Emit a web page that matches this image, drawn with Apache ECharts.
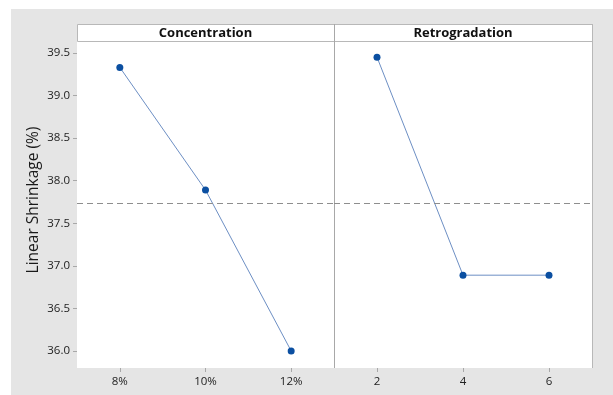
<!DOCTYPE html>
<html>
<head>
<meta charset="utf-8">
<script src="https://cdn.jsdelivr.net/npm/echarts@6/dist/echarts.min.js"></script>
<style>
  html, body { margin: 0; padding: 0; background: #ffffff; }
  #chart { width: 613px; height: 395px; }
</style>
</head>
<body>
<div id="chart"></div>
<script>
// Main effects of each factor on linear shrinkage
const concentrationLevels = ['8%', '10%', '12%'];
const concentrationMeans = [39.33, 37.89, 36.00];
const retrogradationLevels = ['2', '4', '6'];
const retrogradationMeans = [39.45, 36.89, 36.89];
const panelTitles = ['Concentration', 'Retrogradation'];
const yTicks = [36.0, 36.5, 37.0, 37.5, 38.0, 38.5, 39.0, 39.5];

const FONT = '"Open Sans", "DejaVu Sans", sans-serif';
const plot = { left: 77, top: 41, bottom: 368, mid: 334, right: 592, headerTop: 24 };
const yMin = 35.80, yMax = 39.64;

const chart = echarts.init(document.getElementById('chart'), null, { renderer: 'canvas' });

function xAxisFor(idx, cats) {
  return {
    type: 'category', gridIndex: idx, data: cats, boundaryGap: true,
    axisLine: { show: false },
    axisTick: { show: true, alignWithLabel: true, length: 4, lineStyle: { color: '#a8a8a8' } },
    axisLabel: { color: '#222', fontFamily: FONT, fontSize: 11.5, margin: 8 },
    splitLine: { show: false }
  };
}

function yAxisFor(idx, visible) {
  return {
    type: 'value', gridIndex: idx, min: yMin, max: yMax,
    show: visible,
    name: visible ? 'Linear Shrinkage (%)' : '',
    nameLocation: 'middle', nameGap: 35, nameRotate: 90,
    nameTextStyle: { color: '#1a1a1a', fontFamily: FONT, fontSize: 15.5, padding: [0, 0, 0, 9] },
    axisLine: { show: false },
    axisTick: { show: visible, length: 4, lineStyle: { color: '#a8a8a8' }, customValues: yTicks },
    axisLabel: {
      show: visible, color: '#222', fontFamily: FONT, fontSize: 11.5, margin: 7,
      customValues: yTicks, formatter: v => v.toFixed(1)
    },
    splitLine: { show: false }
  };
}

function effectSeries(idx, values) {
  return {
    type: 'line', xAxisIndex: idx, yAxisIndex: idx, data: values,
    symbol: 'circle', symbolSize: 7,
    itemStyle: { color: '#0b4fa1' },
    lineStyle: { color: '#6d8fc4', width: 1 },
    z: 3,
    markLine: {
      silent: true, symbol: 'none',
      label: { show: false },
      lineStyle: { color: '#8e8e8e', type: [6, 4], width: 1 },
      data: [{ type: 'average' }]
    }
  };
}

function headerText(text, cx) {
  return {
    type: 'text', z: 2, silent: true,
    x: cx, y: (plot.headerTop + plot.top) / 2 + 1,
    style: {
      text: text, align: 'center', verticalAlign: 'middle',
      font: 'bold 13px ' + FONT, fill: '#111'
    }
  };
}

chart.setOption({
  backgroundColor: '#ffffff',
  animation: false,
  grid: [
    { left: plot.left, top: plot.top, width: plot.mid - plot.left, height: plot.bottom - plot.top,
      show: true, backgroundColor: '#ffffff', borderWidth: 0 },
    { left: plot.mid, top: plot.top, width: plot.right - plot.mid, height: plot.bottom - plot.top,
      show: true, backgroundColor: '#ffffff', borderWidth: 0 }
  ],
  xAxis: [xAxisFor(0, concentrationLevels), xAxisFor(1, retrogradationLevels)],
  yAxis: [yAxisFor(0, true), yAxisFor(1, false)],
  series: [effectSeries(0, concentrationMeans), effectSeries(1, retrogradationMeans)],
  graphic: [
    // grey surround
    { type: 'rect', z: -10, silent: true,
      shape: { x: 11, y: 9, width: 602, height: 386 },
      style: { fill: '#e5e5e5' } },
    // header strip
    { type: 'rect', z: 1, silent: true,
      shape: { x: plot.left + 0.5, y: plot.headerTop + 0.5, width: plot.right - plot.left, height: plot.top - plot.headerTop },
      style: { fill: '#ffffff', stroke: '#b8b8b8', lineWidth: 1 } },
    headerText(panelTitles[0], (plot.left + plot.mid) / 2),
    headerText(panelTitles[1], (plot.mid + plot.right) / 2),
    // right frame edge
    { type: 'line', z: 1, silent: true,
      shape: { x1: plot.right + 0.5, y1: plot.headerTop, x2: plot.right + 0.5, y2: plot.bottom },
      style: { stroke: '#b8b8b8', lineWidth: 1 } },
    // panel divider
    { type: 'line', z: 1, silent: true,
      shape: { x1: plot.mid + 0.5, y1: plot.headerTop, x2: plot.mid + 0.5, y2: plot.bottom },
      style: { stroke: '#a8a8a8', lineWidth: 1 } }
  ]
});
</script>
</body>
</html>
